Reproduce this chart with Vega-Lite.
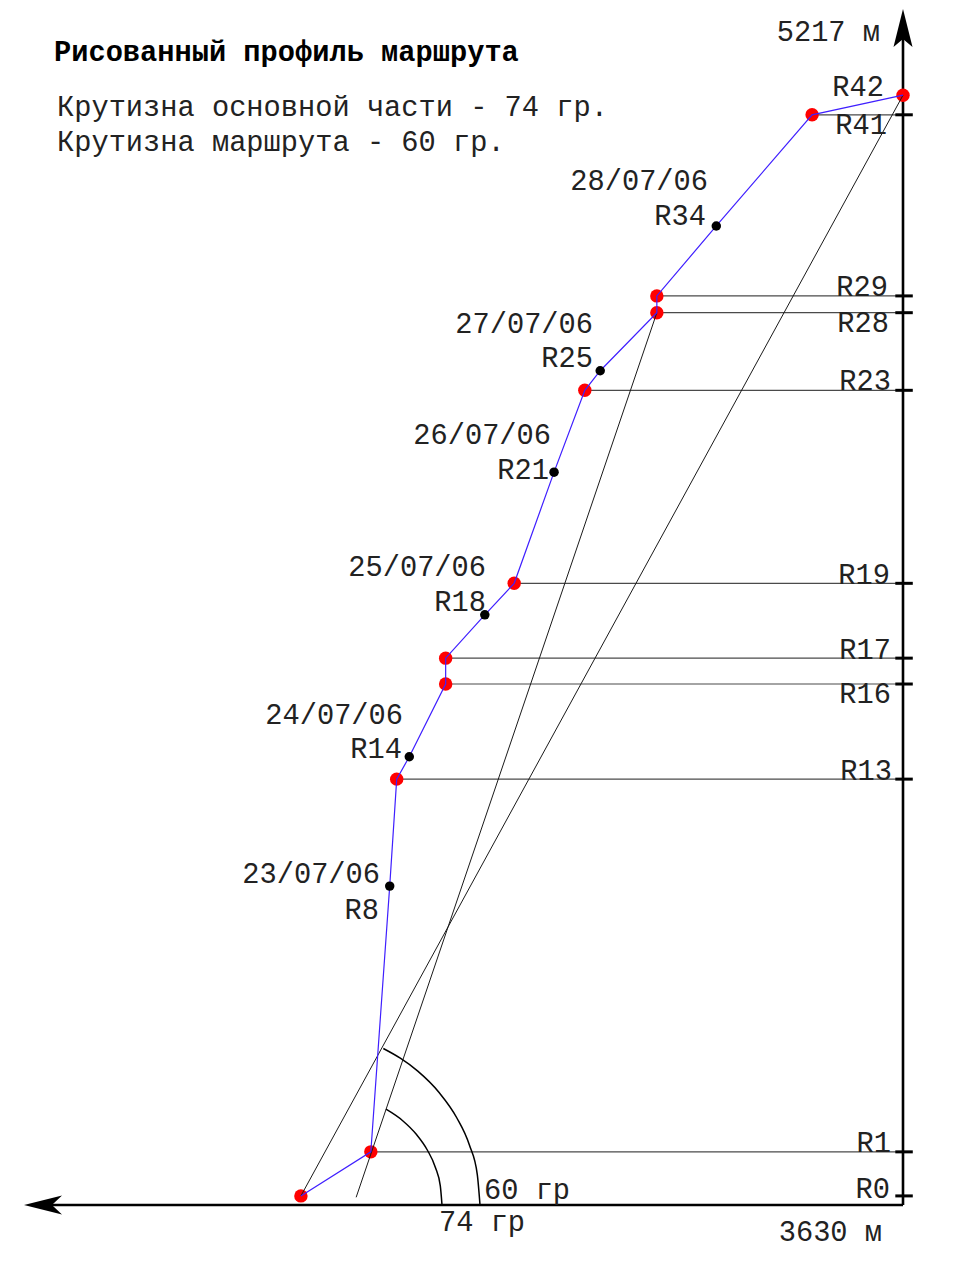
{
  "$schema": "https://vega.github.io/schema/vega-lite/v6.json",
  "width": 957,
  "height": 1276,
  "autosize": {"type": "fit", "contains": "padding"},
  "padding": 0,
  "background": "white",
  "config": {"view": {"stroke": null}},
  "datasets": {
    "route": [
      {"name": "R0", "kind": "camp", "seq": 0, "d": 861, "alt": 3643},
      {"name": "R1", "kind": "camp", "seq": 1, "d": 761, "alt": 3706},
      {"name": "R8", "kind": "waypoint", "seq": 2, "d": 734, "alt": 4086},
      {"name": "R13", "kind": "camp", "seq": 3, "d": 724, "alt": 4239},
      {"name": "R14", "kind": "waypoint", "seq": 4, "d": 706, "alt": 4271},
      {"name": "R16", "kind": "camp", "seq": 5, "d": 654, "alt": 4375},
      {"name": "R17", "kind": "camp", "seq": 6, "d": 654, "alt": 4412},
      {"name": "R18", "kind": "waypoint", "seq": 7, "d": 598, "alt": 4474},
      {"name": "R19", "kind": "camp", "seq": 8, "d": 556, "alt": 4519},
      {"name": "R21", "kind": "waypoint", "seq": 9, "d": 499, "alt": 4678},
      {"name": "R23", "kind": "camp", "seq": 10, "d": 455, "alt": 4795},
      {"name": "R25", "kind": "waypoint", "seq": 11, "d": 433, "alt": 4823},
      {"name": "R28", "kind": "camp", "seq": 12, "d": 352, "alt": 4906},
      {"name": "R29", "kind": "camp", "seq": 13, "d": 352, "alt": 4930},
      {"name": "R34", "kind": "waypoint", "seq": 14, "d": 267, "alt": 5030},
      {"name": "R41", "kind": "camp", "seq": 15, "d": 130, "alt": 5189},
      {"name": "R42", "kind": "camp", "seq": 16, "d": 0, "alt": 5217}
    ],
    "axes": [
      {"axis": "vertical", "o": 0, "d": 0, "alt": 3630},
      {"axis": "vertical", "o": 1, "d": 0, "alt": 5310},
      {"axis": "horizontal", "o": 0, "d": 0, "alt": 3630},
      {"axis": "horizontal", "o": 1, "d": 1219.8, "alt": 3630}
    ],
    "arrows": [
      {"dir": "up", "d": 0, "alt": 5313.1},
      {"dir": "left", "d": 1229.8, "alt": 3630}
    ],
    "slopes": [
      {"line": "60", "o": 0, "d": 861, "alt": 3643},
      {"line": "60", "o": 1, "d": 0, "alt": 5217},
      {"line": "74", "o": 0, "d": 782, "alt": 3641},
      {"line": "74", "o": 1, "d": 352, "alt": 4906}
    ],
    "arcs": [
      {"arc": "74", "o": 0, "d": 659.23, "alt": 3630},
      {"arc": "74", "o": 1, "d": 661.66, "alt": 3657.31},
      {"arc": "74", "o": 2, "d": 668.67, "alt": 3683.77},
      {"arc": "74", "o": 3, "d": 680.25, "alt": 3708.65},
      {"arc": "74", "o": 4, "d": 695.98, "alt": 3731.1},
      {"arc": "74", "o": 5, "d": 715.43, "alt": 3750.55},
      {"arc": "74", "o": 6, "d": 739.31, "alt": 3766.99},
      {"arc": "60", "o": 0, "d": 604.89, "alt": 3630},
      {"arc": "60", "o": 1, "d": 608.75, "alt": 3673.47},
      {"arc": "60", "o": 2, "d": 620.05, "alt": 3715.66},
      {"arc": "60", "o": 3, "d": 638.35, "alt": 3755.13},
      {"arc": "60", "o": 4, "d": 663.38, "alt": 3790.88},
      {"arc": "60", "o": 5, "d": 694.27, "alt": 3821.76},
      {"arc": "60", "o": 6, "d": 718.86, "alt": 3839.92},
      {"arc": "60", "o": 7, "d": 743.17, "alt": 3853.8}
    ],
    "labelsRight": [
      {"text": "R42", "d": 27.17, "alt": 5228.74},
      {"text": "R41", "d": 22.88, "alt": 5174.4},
      {"text": "R34", "d": 281.71, "alt": 5044.27},
      {"text": "28/07/06", "d": 278.85, "alt": 5094.32},
      {"text": "R29", "d": 21.45, "alt": 4942.74},
      {"text": "R28", "d": 20.02, "alt": 4891.26},
      {"text": "27/07/06", "d": 443.3, "alt": 4889.83},
      {"text": "R25", "d": 443.3, "alt": 4841.21},
      {"text": "R23", "d": 17.16, "alt": 4808.32},
      {"text": "26/07/06", "d": 503.36, "alt": 4731.1},
      {"text": "R21", "d": 506.22, "alt": 4681.05},
      {"text": "R19", "d": 18.59, "alt": 4530.9},
      {"text": "25/07/06", "d": 596.31, "alt": 4542.34},
      {"text": "R18", "d": 596.31, "alt": 4492.29},
      {"text": "R17", "d": 17.16, "alt": 4423.65},
      {"text": "R16", "d": 17.16, "alt": 4360.73},
      {"text": "24/07/06", "d": 715, "alt": 4330.7},
      {"text": "R14", "d": 716.43, "alt": 4282.08},
      {"text": "R13", "d": 15.73, "alt": 4250.62},
      {"text": "23/07/06", "d": 747.89, "alt": 4103.33},
      {"text": "R8", "d": 749.32, "alt": 4051.85},
      {"text": "R1", "d": 17.16, "alt": 3718.66},
      {"text": "R0", "d": 18.59, "alt": 3652.88},
      {"text": "5217 м", "d": 32.89, "alt": 5307.39},
      {"text": "3630 м", "d": 30.03, "alt": 3591.39}
    ],
    "labelsLeft": [
      {"text": "Крутизна основной части - 74 гр.", "d": 1209.78, "alt": 5200.14},
      {"text": "Крутизна маршрута - 60 гр.", "d": 1209.78, "alt": 5150.09},
      {"text": "60 гр", "d": 599.17, "alt": 3651.45},
      {"text": "74 гр", "d": 663.52, "alt": 3605.69}
    ],
    "title": [
      {"text": "Рисованный профиль маршрута", "d": 1214.07, "alt": 5278.79}
    ]
  },
  "encoding": {
    "x": {"field": "d", "type": "quantitative", "scale": {"domain": [-77.22, 1291.29], "reverse": true, "nice": false, "zero": false}, "axis": null},
    "y": {"field": "alt", "type": "quantitative", "scale": {"domain": [3528.47, 5353.15], "nice": false, "zero": false}, "axis": null}
  },
  "layer": [
    {
      "data": {"name": "route"},
      "transform": [{"filter": "datum.kind == 'camp' && datum.name != 'R0' && datum.name != 'R42'"}],
      "mark": {"type": "rule", "color": "#4a4a4a", "strokeWidth": 1.2},
      "encoding": {"x2": {"datum": 0}}
    },
    {
      "data": {"name": "axes"},
      "mark": {"type": "line", "color": "black", "strokeWidth": 2.6},
      "encoding": {"detail": {"field": "axis"}, "order": {"field": "o"}}
    },
    {
      "data": {"name": "arrows"},
      "transform": [{"filter": "datum.dir == 'up'"}],
      "mark": {"type": "point", "shape": "M0,-1L0.5,1L0,0.58L-0.5,1Z", "size": 1444, "filled": true, "color": "black", "opacity": 1}
    },
    {
      "data": {"name": "arrows"},
      "transform": [{"filter": "datum.dir == 'left'"}],
      "mark": {"type": "point", "shape": "M-1,0L1,-0.5L0.47,0L1,0.5Z", "size": 1444, "filled": true, "color": "black", "opacity": 1}
    },
    {
      "data": {"name": "route"},
      "transform": [{"filter": "datum.kind == 'camp' && datum.name != 'R42'"}],
      "mark": {"type": "rule", "color": "black", "strokeWidth": 3},
      "encoding": {"x": {"datum": 11}, "x2": {"datum": -14}}
    },
    {
      "data": {"name": "route"},
      "transform": [{"filter": "datum.kind == 'camp'"}],
      "mark": {"type": "point", "shape": "circle", "size": 180, "filled": true, "color": "#ff0000", "opacity": 1}
    },
    {
      "data": {"name": "slopes"},
      "mark": {"type": "line", "color": "#1a1a1a", "strokeWidth": 1},
      "encoding": {"detail": {"field": "line"}, "order": {"field": "o"}}
    },
    {
      "data": {"name": "arcs"},
      "mark": {"type": "line", "color": "black", "strokeWidth": 1.5, "interpolate": "monotone"},
      "encoding": {"detail": {"field": "arc"}, "order": {"field": "o"}}
    },
    {
      "data": {"name": "route"},
      "mark": {"type": "line", "color": "#3f1fff", "strokeWidth": 1.2},
      "encoding": {"order": {"field": "seq"}}
    },
    {
      "data": {"name": "route"},
      "transform": [{"filter": "datum.kind == 'waypoint'"}],
      "mark": {"type": "point", "shape": "circle", "size": 90, "filled": true, "color": "black", "opacity": 1}
    },
    {
      "data": {"name": "labelsRight"},
      "mark": {"type": "text", "align": "right", "baseline": "middle", "font": "Liberation Mono", "fontSize": 28.7, "color": "#222"},
      "encoding": {"text": {"field": "text"}}
    },
    {
      "data": {"name": "labelsLeft"},
      "mark": {"type": "text", "align": "left", "baseline": "middle", "font": "Liberation Mono", "fontSize": 28.7, "color": "#222"},
      "encoding": {"text": {"field": "text"}}
    },
    {
      "data": {"name": "title"},
      "mark": {"type": "text", "align": "left", "baseline": "middle", "font": "Liberation Mono", "fontSize": 28.7, "fontWeight": "bold", "color": "black"},
      "encoding": {"text": {"field": "text"}}
    }
  ]
}
